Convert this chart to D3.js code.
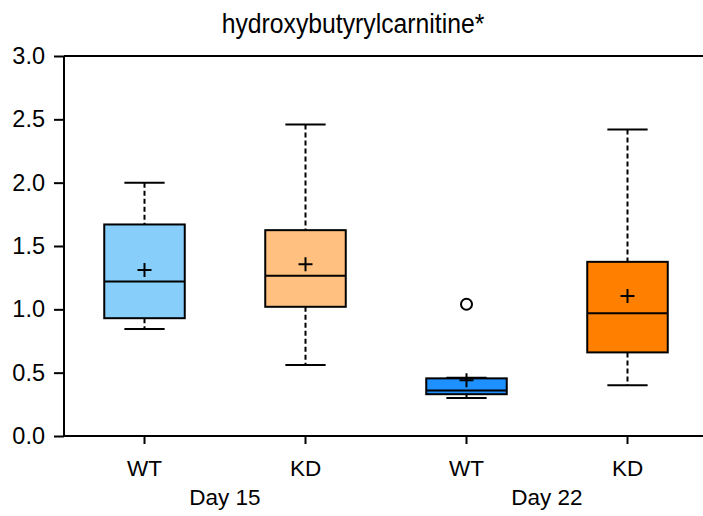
<!DOCTYPE html>
<html>
<head>
<meta charset="utf-8">
<script src="https://cdn.jsdelivr.net/npm/d3@7"></script>
<style>
  html, body { margin: 0; padding: 0; background: #fff; }
  svg { display: block; font-family: "Liberation Sans", Arial, sans-serif; }
</style>
</head>
<body>
<svg id="chart" width="703" height="516"></svg>
<script>
// Box-plot summaries for hydroxybutyrylcarnitine, per genotype and day
const groups    = ["WT15", "KD15", "WT22", "KD22"];
const genotypes = ["WT", "KD", "WT", "KD"];
const days      = ["Day 15", "Day 22"];
const whiskerLo = [0.845, 0.56, 0.30, 0.40];
const q1        = [0.93, 1.02, 0.33, 0.66];
const medians   = [1.22, 1.265, 0.36, 0.97];
const q3        = [1.67, 1.625, 0.455, 1.375];
const whiskerHi = [2.00, 2.46, 0.46, 2.42];
const means     = [1.31, 1.355, 0.44, 1.105];
const outliers  = [[], [], [1.04], []];
const fills     = ["#87CEFA", "#FFC080", "#1E90FF", "#FF8000"];
const yTicks    = [0, 0.5, 1.0, 1.5, 2.0, 2.5, 3.0];

const FONT = "'Liberation Sans', Arial, sans-serif";
const svg = d3.select("#chart");
const margin = { left: 64, top: 56, bottom: 436 };

const x = d3.scaleBand().domain(groups).range([64, 708]).paddingInner(0).paddingOuter(0);
const y = d3.scaleLinear().domain([0, 3]).range([margin.bottom, margin.top]);
const boxW = x.bandwidth() * 0.5;
const capW = boxW * 0.5;
const cx = g => x(g) + x.bandwidth() / 2;

// Title (slightly condensed)
svg.append("text")
  .attr("transform", "translate(353,33) scale(0.9,1)")
  .attr("text-anchor", "middle")
  .attr("font-size", 27.5)
  .attr("fill", "#000")
  .text("hydroxybutyrylcarnitine*");

// Top frame line
svg.append("line")
  .attr("x1", margin.left).attr("x2", 703)
  .attr("y1", y(3)).attr("y2", y(3))
  .attr("stroke", "#000").attr("stroke-width", 2);

// Y axis
const yAxis = svg.append("g")
  .attr("transform", `translate(${margin.left},0)`)
  .call(d3.axisLeft(y).tickValues(yTicks).tickFormat(d3.format(".1f")).tickSize(10).tickPadding(9));
yAxis.attr("font-size", 23.5).attr("font-family", FONT);
yAxis.select(".domain").attr("stroke-width", 2).attr("d", `M0,${y(0)}V${y(3)}`);
yAxis.selectAll(".tick line").attr("stroke-width", 2);
yAxis.selectAll(".tick text").attr("fill", "#000");

// X axis
const xAxis = svg.append("g")
  .attr("transform", `translate(0,${margin.bottom})`)
  .call(d3.axisBottom(x).tickFormat((d, i) => genotypes[i]).tickSize(8).tickPadding(16));
xAxis.attr("font-size", 22.5).attr("font-family", FONT);
xAxis.select(".domain").attr("stroke-width", 2).attr("d", `M${margin.left},0H703`);
xAxis.selectAll(".tick line").attr("stroke-width", 2);
xAxis.selectAll(".tick text").attr("fill", "#000");

// Day labels under each genotype pair
days.forEach((d, i) => {
  const mid = (cx(groups[2 * i]) + cx(groups[2 * i + 1])) / 2;
  svg.append("text")
    .attr("x", mid).attr("y", 505)
    .attr("text-anchor", "middle")
    .attr("font-size", 22.5)
    .attr("fill", "#000")
    .text(d);
});

// Boxes
const box = svg.append("g").selectAll("g").data(groups).join("g");

box.append("line")
  .attr("x1", cx).attr("x2", cx)
  .attr("y1", (d, i) => y(whiskerHi[i])).attr("y2", (d, i) => y(q3[i]))
  .attr("stroke", "#000").attr("stroke-width", 2).attr("stroke-dasharray", "5,3");
box.append("line")
  .attr("x1", cx).attr("x2", cx)
  .attr("y1", (d, i) => y(q1[i])).attr("y2", (d, i) => y(whiskerLo[i]))
  .attr("stroke", "#000").attr("stroke-width", 2).attr("stroke-dasharray", "5,3");

box.append("line")
  .attr("x1", d => cx(d) - capW / 2).attr("x2", d => cx(d) + capW / 2)
  .attr("y1", (d, i) => y(whiskerHi[i])).attr("y2", (d, i) => y(whiskerHi[i]))
  .attr("stroke", "#000").attr("stroke-width", 2);
box.append("line")
  .attr("x1", d => cx(d) - capW / 2).attr("x2", d => cx(d) + capW / 2)
  .attr("y1", (d, i) => y(whiskerLo[i])).attr("y2", (d, i) => y(whiskerLo[i]))
  .attr("stroke", "#000").attr("stroke-width", 2);

box.append("rect")
  .attr("x", d => cx(d) - boxW / 2).attr("width", boxW)
  .attr("y", (d, i) => y(q3[i])).attr("height", (d, i) => y(q1[i]) - y(q3[i]))
  .attr("fill", (d, i) => fills[i])
  .attr("stroke", "#000").attr("stroke-width", 2);

box.append("line")
  .attr("x1", d => cx(d) - boxW / 2).attr("x2", d => cx(d) + boxW / 2)
  .attr("y1", (d, i) => y(medians[i])).attr("y2", (d, i) => y(medians[i]))
  .attr("stroke", "#000").attr("stroke-width", 2);

// Mean markers
const pl = 7;
box.append("path")
  .attr("d", (d, i) => {
    const px = cx(d), py = y(means[i]);
    return `M${px - pl},${py}H${px + pl}M${px},${py - pl}V${py + pl}`;
  })
  .attr("stroke", "#000").attr("stroke-width", 2).attr("fill", "none");

// Outliers
box.each(function (d, i) {
  d3.select(this).selectAll("circle").data(outliers[i]).join("circle")
    .attr("cx", cx(d)).attr("cy", v => y(v)).attr("r", 5.5)
    .attr("fill", "#fff").attr("stroke", "#000").attr("stroke-width", 2);
});
</script>
</body>
</html>
